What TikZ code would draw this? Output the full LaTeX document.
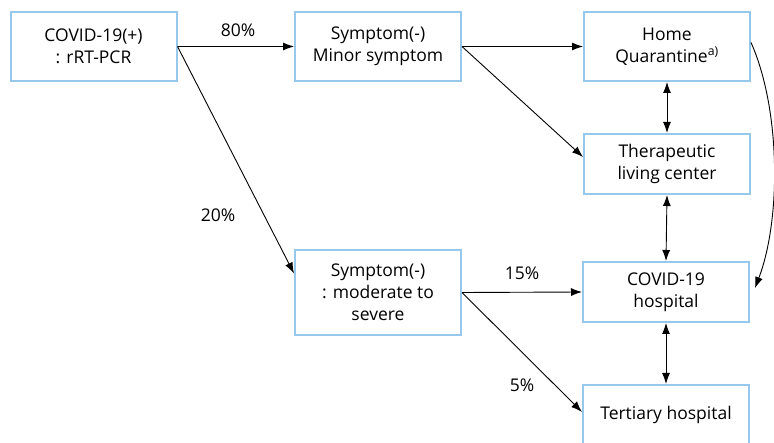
\documentclass[tikz,border=0pt]{standalone}
\usepackage{fontspec}
\setmainfont{Open Sans}
\usetikzlibrary{arrows.meta}
\definecolor{boxblue}{RGB}{150,200,236}
\tikzset{
  flowbox/.style={draw=boxblue, line width=2pt, fill=white, align=center,
    minimum width=166pt, inner sep=0pt, font=\fontsize{17.5}{22}\selectfont},
  pct/.style={font=\fontsize{17.5}{22}\selectfont}
}
\begin{document}
\begin{tikzpicture}[x=1pt, y=-1pt, >={Latex[length=11pt,width=8pt]}, line width=0.9pt]
\useasboundingbox (0,0) rectangle (774,443);

\node[flowbox, minimum height=69pt] (pos) at (93.5,46.5) {COVID-19(+)\\: rRT-PCR};
\node[flowbox, minimum height=69pt] (minor) at (378,46.5) {Symptom(-)\\Minor symptom};
\node[flowbox, minimum height=69pt] (home) at (667,46.5) {Home\\Quarantine\textsuperscript{a)}};
\node[flowbox, minimum height=60pt] (tlc) at (667,164) {Therapeutic\\living center};
\node[flowbox, minimum height=85pt] (severe) at (378,292.5) {Symptom(-)\\: moderate to\\severe};
\node[flowbox, minimum height=60pt] (hosp) at (666,292) {COVID-19\\hospital};
\node[flowbox, minimum height=60pt] (tert) at (666,415) {Tertiary hospital};

\node[pct] (p80) at (238,30) {80\%};
\node[pct] (p20) at (218,215) {20\%};
\node[pct] (p15) at (522,273) {15\%};
\node[pct] (p5) at (522,385) {5\%};

\draw[->] (pos.east) -- (minor.west);
\draw[->] (pos.east) -- ([yshift=19pt]severe.west);
\draw[->] (minor.east) -- (home.west);
\draw[->] (minor.east) -- ([yshift=7pt]tlc.west);
\draw[->] (severe.east) -- (hosp.west);
\draw[->] (severe.east) -- ([yshift=3pt]tert.west);

\draw[<->] (home.south) -- (tlc.north);
\draw[<->] (tlc.south) -- (hosp.north);
\draw[<->] (hosp.south) -- (tert.north);

\draw[->] ([yshift=4pt]home.east) .. controls (781,110) and (781,220) .. ([yshift=4pt,xshift=5pt]hosp.east);

\end{tikzpicture}
\end{document}
